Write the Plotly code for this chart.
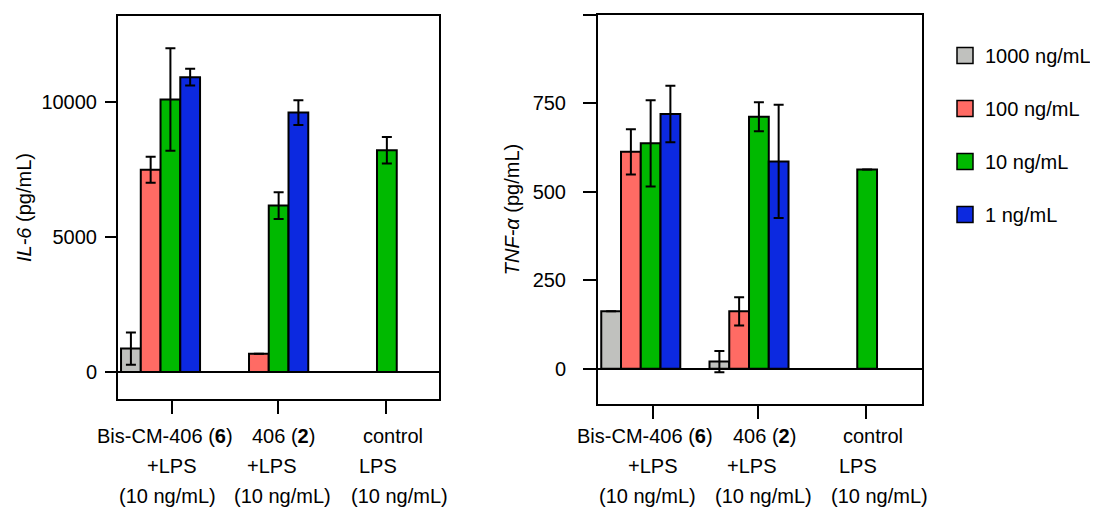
import plotly.graph_objects as go

# ---------------- data ----------------
categories = ["Bis-CM-406 (6) +LPS", "406 (2) +LPS", "control LPS"]
cat_pos = [0, 1, 2]
series_names = ["1000 ng/mL", "100 ng/mL", "10 ng/mL", "1 ng/mL"]
series_colors = ["#c0c1be", "#ff6b64", "#00b900", "#0c29e0"]

# IL-6 (pg/mL)
il6_1000 = [870, None, None]
il6_100 = [7500, 680, None]
il6_10 = [10100, 6170, 8220]
il6_1 = [10930, 9620, None]
il6_1000_err = [600, None, None]
il6_100_err = [480, None, None]
il6_10_err = [1900, 500, 490]
il6_1_err = [310, 460, None]

# TNF-alpha (pg/mL)
tnf_1000 = [162, 20, None]
tnf_100 = [613, 162, None]
tnf_10 = [637, 712, 563]
tnf_1 = [720, 586, None]
tnf_1000_err = [None, 30, None]
tnf_100_err = [64, 40, None]
tnf_10_err = [122, 41, None]
tnf_1_err = [80, 160, None]

il6_ticks = [0, 5000, 10000]
il6_ticktext = ["0", "5000", "10000"]
tnf_ticks = [0, 250, 500, 750, 1000]
tnf_ticktext = ["0", "250", "500", "750", ""]

label_line1 = ["Bis-CM-406 (<b>6</b>)", "406 (<b>2</b>)", "control"]
label_line2 = ["+LPS", "+LPS", "LPS"]
label_line3 = ["(10 ng/mL)", "(10 ng/mL)", "(10 ng/mL)"]

# ---------------- layout helpers ----------------
FONT = "Liberation Sans, Arial, Helvetica, sans-serif"
OFF = 8                      # default page body margin
W, H = 1098 - OFF, 507 - OFF


def px(x):
    return (x - OFF) / W


def py(y):
    return 1 - (y - OFF) / H


il6_series = [(il6_1000, il6_1000_err), (il6_100, il6_100_err),
              (il6_10, il6_10_err), (il6_1, il6_1_err)]
tnf_series = [(tnf_1000, tnf_1000_err), (tnf_100, tnf_100_err),
              (tnf_10, tnf_10_err), (tnf_1, tnf_1_err)]

fig = go.Figure()


def add_bars(series, xa, ya):
    for (vals, errs), name, col in zip(series, series_names, series_colors):
        fig.add_trace(go.Bar(
            x=cat_pos, y=vals, name=name, xaxis=xa, yaxis=ya,
            marker=dict(color=col, line=dict(color="black", width=2)),
            error_y=dict(type="data", array=errs, visible=True,
                         color="black", thickness=2, width=5),
            showlegend=False,
        ))


add_bars(il6_series, "x", "y")
add_bars(tnf_series, "x2", "y2")

# legend proxies
for i, (name, col) in enumerate(zip(series_names, series_colors)):
    fig.add_trace(go.Scatter(
        x=[None], y=[None], mode="markers", name=name,
        legendgroup=f"g{i}", xaxis="x2", yaxis="y2",
        marker=dict(symbol="square", size=16, color=col,
                    line=dict(color="black", width=1.5)),
    ))

tickvals_x = [0.11, 1.085, 2.08]

axis_common = dict(showline=True, linecolor="black", linewidth=2, mirror=True,
                   showgrid=False, ticks="outside", tickcolor="black",
                   tickwidth=2)

fig.update_layout(
    width=W, height=H, autosize=False,
    margin=dict(l=0, r=0, t=0, b=0),
    paper_bgcolor="white", plot_bgcolor="white",
    font=dict(family=FONT, size=20, color="black"),
    barmode="group", bargap=0.27, bargroupgap=0,
    showlegend=True,
    legend=dict(x=px(945), y=py(36), xanchor="left", yanchor="top",
                font=dict(size=20), tracegroupgap=24, traceorder="grouped",
                bgcolor="rgba(0,0,0,0)"),
    xaxis=dict(domain=[px(118), px(439)], range=[-0.393, 2.573],
               tickvals=tickvals_x, showticklabels=False, ticklen=13,
               zeroline=False, anchor="y", **axis_common),
    yaxis=dict(domain=[py(399), py(16)], range=[-1000, 13200],
               tickvals=il6_ticks, ticktext=il6_ticktext, ticklen=11,
               zeroline=True, zerolinecolor="black", zerolinewidth=2,
               ticklabelstandoff=4,
               title=dict(text="<i>IL-6</i> (pg/mL)", standoff=4,
                          font=dict(size=20)),
               anchor="x", **axis_common),
    xaxis2=dict(domain=[px(598), px(922)], range=[-0.395, 2.598],
                tickvals=tickvals_x, showticklabels=False, ticklen=13,
                zeroline=False, anchor="y2", **axis_common),
    yaxis2=dict(domain=[py(404), py(15)], range=[-100, 1000],
                tickvals=tnf_ticks, ticktext=tnf_ticktext, ticklen=13,
                zeroline=True, zerolinecolor="black", zerolinewidth=2,
                ticklabelstandoff=13,
                title=dict(text="<i>TNF-α</i> (pg/mL)", standoff=8,
                           font=dict(size=20)),
                anchor="x2", **axis_common),
)

# x category labels (three lines)
line_x = [[0.04, 1.14, 2.147], [0.104, 1.022, 2.01], [0.06, 1.13, 2.205]]
line_y = [436, 466, 496]
for xref in ["x", "x2"]:
    for lines, xs, ypx in zip([label_line1, label_line2, label_line3],
                              line_x, line_y):
        for txt, xv in zip(lines, xs):
            fig.add_annotation(text=txt, x=xv, xref=xref, y=py(ypx),
                               yref="paper", yanchor="middle",
                               xanchor="center", showarrow=False,
                               font=dict(size=20, family=FONT))

fig.write_html("out.html")
